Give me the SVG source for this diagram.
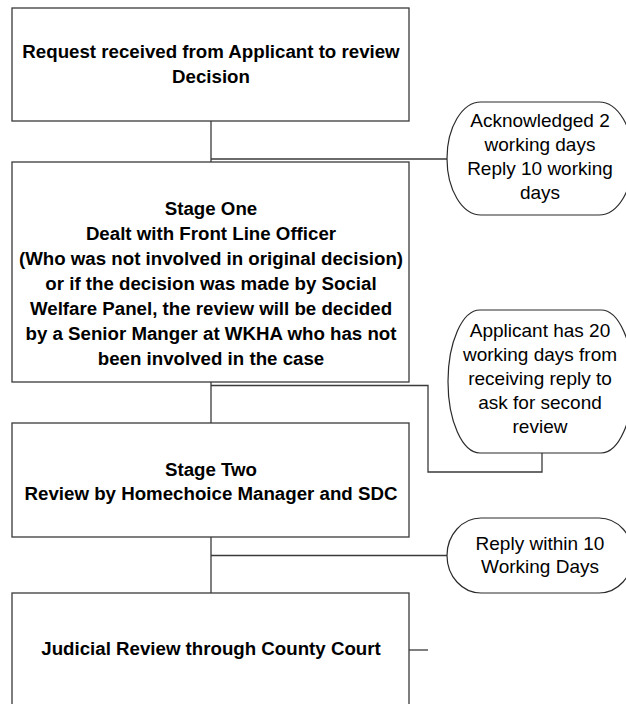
<svg xmlns="http://www.w3.org/2000/svg" width="626" height="704" viewBox="0 0 626 704">
<style>
.box{fill:#fff;stroke:#3a3a3a;stroke-width:1.3}
.call{fill:#fff;stroke:#2a2a2a;stroke-width:1.2}
.ln{fill:none;stroke:#3a3a3a;stroke-width:1.3}
.b{font-family:"Liberation Sans",Arial,sans-serif;font-weight:bold;font-size:18.7px;fill:#000;text-anchor:middle}
.r{font-family:"Liberation Sans",Arial,sans-serif;font-size:19px;fill:#000;text-anchor:middle}
</style>
<rect width="626" height="704" fill="#fff"/>
<g id="connectors">
<path class="ln" d="M211 121V162"/>
<path class="ln" d="M211 159H447"/>
<path class="ln" d="M211 382V423"/>
<path class="ln" d="M211 385.5H428V472H542V453"/>
<path class="ln" d="M211 537V593"/>
<path class="ln" d="M211 555.5H447"/>
<path class="ln" d="M409 650H428"/>
</g>
<g id="request">
<rect class="box" x="12" y="8" width="397" height="113"/>
<text class="b" x="211" y="58">Request received from Applicant to review</text>
<text class="b" x="211" y="83">Decision</text>
</g>
<g id="stage-one">
<rect class="box" x="12" y="162" width="397" height="220"/>
<text class="b" x="211" y="215">Stage One</text>
<text class="b" x="211" y="240">Dealt with Front Line Officer</text>
<text class="b" x="211" y="265">(Who was not involved in original decision)</text>
<text class="b" x="211" y="290">or if the decision was made by Social</text>
<text class="b" x="211" y="315">Welfare Panel, the review will be decided</text>
<text class="b" x="211" y="340">by a Senior Manger at WKHA who has not</text>
<text class="b" x="211" y="365">been involved in the case</text>
</g>
<g id="stage-two">
<rect class="box" x="12" y="423" width="397" height="114"/>
<text class="b" x="211" y="476">Stage Two</text>
<text class="b" x="211" y="500">Review by Homechoice Manager and SDC</text>
</g>
<g id="judicial">
<rect class="box" x="12" y="593" width="397" height="130"/>
<text class="b" x="211" y="655">Judicial Review through County Court</text>
</g>
<g id="note-acknowledged">
<rect class="call" x="447" y="102" width="186" height="113" rx="34" ry="56.5"/>
<text class="r" x="540" y="127">Acknowledged 2</text>
<text class="r" x="540" y="151">working days</text>
<text class="r" x="540" y="175">Reply 10 working</text>
<text class="r" x="540" y="199">days</text>
</g>
<g id="note-twenty-days">
<rect class="call" x="448" y="310" width="185" height="143" rx="32" ry="71.5"/>
<text class="r" x="540" y="337">Applicant has 20</text>
<text class="r" x="540" y="361">working days from</text>
<text class="r" x="540" y="385">receiving reply to</text>
<text class="r" x="540" y="409">ask for second</text>
<text class="r" x="540" y="433">review</text>
</g>
<g id="note-reply">
<rect class="call" x="447" y="518" width="186" height="75" rx="34" ry="37.5"/>
<text class="r" x="540" y="550">Reply within 10</text>
<text class="r" x="540" y="573">Working Days</text>
</g>
</svg>
